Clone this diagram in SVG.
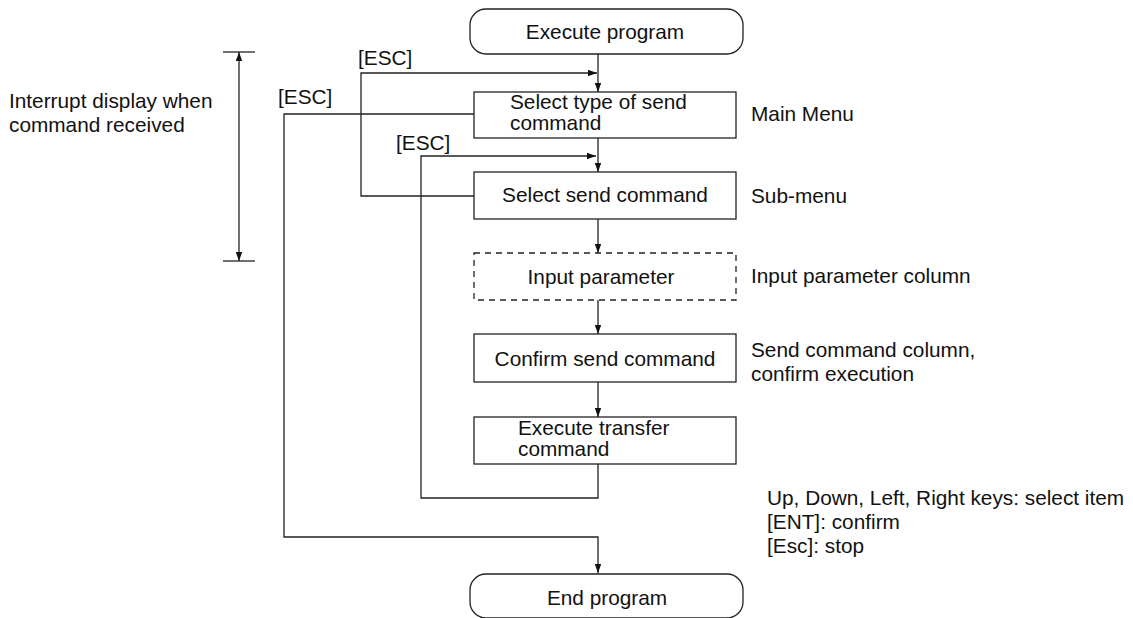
<svg xmlns="http://www.w3.org/2000/svg" width="1133" height="618" viewBox="0 0 1133 618">
<style>
  text { font-family: "Liberation Sans", Arial, sans-serif; font-size: 20.8px; fill: #111; }
  .c { text-anchor: middle; }
  .box { fill: #fff; stroke: #222; stroke-width: 1.3; }
  .dash { fill: #fff; stroke: #222; stroke-width: 1.3; stroke-dasharray: 6 5; }
  .ln { fill: none; stroke: #222; stroke-width: 1.3; }
</style>
<defs>
  <marker id="arr" markerUnits="userSpaceOnUse" markerWidth="10" markerHeight="8" refX="9" refY="4" orient="auto">
    <path d="M0,0.8 L9,4 L0,7.2 Z" fill="#111"/>
  </marker>
</defs>
<g id="connectors">
  <line class="ln" x1="598" y1="54" x2="598" y2="92" marker-end="url(#arr)"/>
  <path class="ln" d="M474,196 H361 V73 H597" marker-end="url(#arr)"/>
  <line class="ln" x1="598" y1="138" x2="598" y2="172" marker-end="url(#arr)"/>
  <path class="ln" d="M598,464 V498 H421 V156 H596" marker-end="url(#arr)"/>
  <path class="ln" d="M474,114 H284 V537 H598 V573" marker-end="url(#arr)"/>
  <line class="ln" x1="598" y1="219" x2="598" y2="253" marker-end="url(#arr)"/>
  <line class="ln" x1="598" y1="300" x2="598" y2="334" marker-end="url(#arr)"/>
  <line class="ln" x1="598" y1="382" x2="598" y2="417" marker-end="url(#arr)"/>
</g>
<g id="interrupt-range">
  <line class="ln" x1="223" y1="52" x2="255" y2="52"/>
  <line class="ln" x1="223" y1="261" x2="255" y2="261"/>
  <line class="ln" x1="239" y1="156" x2="239" y2="52" marker-end="url(#arr)"/>
  <line class="ln" x1="239" y1="156" x2="239" y2="261" marker-end="url(#arr)"/>
  <text x="9" y="108">Interrupt display when</text>
  <text x="9" y="132">command received</text>
</g>
<g id="esc-labels">
  <text x="358" y="65">[ESC]</text>
  <text x="278" y="104">[ESC]</text>
  <text x="396" y="150">[ESC]</text>
</g>
<g id="start">
  <rect class="box" x="470" y="9" width="273" height="45" rx="16"/>
  <text class="c" x="605" y="39">Execute program</text>
</g>
<g id="main-menu">
  <rect class="box" x="474" y="92" width="262" height="46"/>
  <text x="510" y="109">Select type of send</text>
  <text x="510" y="130">command</text>
  <text x="751" y="121">Main Menu</text>
</g>
<g id="sub-menu">
  <rect class="box" x="474" y="172" width="262" height="47"/>
  <text class="c" x="605" y="202">Select send command</text>
  <text x="751" y="203">Sub-menu</text>
</g>
<g id="input-parameter">
  <rect class="dash" x="474" y="253" width="262" height="47"/>
  <text class="c" x="601" y="284">Input parameter</text>
  <text x="751" y="283">Input parameter column</text>
</g>
<g id="confirm">
  <rect class="box" x="474" y="334" width="262" height="48"/>
  <text class="c" x="605" y="366">Confirm send command</text>
  <text x="751" y="357">Send command column,</text>
  <text x="751" y="381">confirm execution</text>
</g>
<g id="execute-transfer">
  <rect class="box" x="474" y="417" width="262" height="47"/>
  <text x="518" y="435">Execute transfer</text>
  <text x="518" y="456">command</text>
</g>
<g id="end">
  <rect class="box" x="470" y="574" width="273" height="44" rx="16"/>
  <text class="c" x="607" y="605">End program</text>
</g>
<g id="legend">
  <text x="767" y="505">Up, Down, Left, Right keys: select item</text>
  <text x="767" y="529">[ENT]: confirm</text>
  <text x="767" y="553">[Esc]: stop</text>
</g>
</svg>
